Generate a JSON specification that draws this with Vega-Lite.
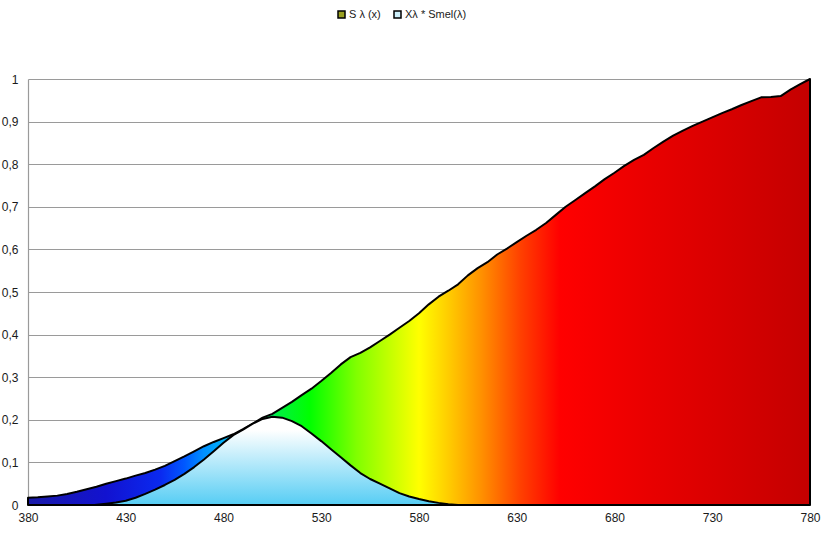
{
  "$schema": "https://vega.github.io/schema/vega-lite/v6.json",
  "width": 782,
  "height": 426,
  "autosize": "none",
  "padding": {"left": 28, "top": 79, "right": 22, "bottom": 33},
  "background": "#ffffff",
  "config": {
    "view": {"stroke": null},
    "font": "Liberation Sans",
    "axis": {"labelFont": "Liberation Sans", "labelFontSize": 12, "labelColor": "#1a1a1a"}
  },
  "datasets": {
    "s": [
      {"wl":380,"v":0.017},{"wl":385,"v":0.018},{"wl":390,"v":0.020},{"wl":395,"v":0.022},{"wl":400,"v":0.026},
      {"wl":405,"v":0.031},{"wl":410,"v":0.037},{"wl":415,"v":0.043},{"wl":420,"v":0.050},{"wl":425,"v":0.056},
      {"wl":430,"v":0.062},{"wl":435,"v":0.069},{"wl":440,"v":0.075},{"wl":445,"v":0.083},{"wl":450,"v":0.092},
      {"wl":455,"v":0.103},{"wl":460,"v":0.114},{"wl":465,"v":0.126},{"wl":470,"v":0.138},{"wl":475,"v":0.148},
      {"wl":480,"v":0.157},{"wl":485,"v":0.166},{"wl":490,"v":0.178},{"wl":495,"v":0.191},{"wl":500,"v":0.205},
      {"wl":505,"v":0.214},{"wl":510,"v":0.228},{"wl":515,"v":0.242},{"wl":520,"v":0.258},{"wl":525,"v":0.273},
      {"wl":530,"v":0.291},{"wl":535,"v":0.310},{"wl":540,"v":0.330},{"wl":545,"v":0.347},{"wl":550,"v":0.357},
      {"wl":555,"v":0.370},{"wl":560,"v":0.385},{"wl":565,"v":0.400},{"wl":570,"v":0.416},{"wl":575,"v":0.432},
      {"wl":580,"v":0.450},{"wl":585,"v":0.471},{"wl":590,"v":0.489},{"wl":595,"v":0.503},{"wl":600,"v":0.518},
      {"wl":605,"v":0.539},{"wl":610,"v":0.556},{"wl":615,"v":0.570},{"wl":620,"v":0.588},{"wl":625,"v":0.602},
      {"wl":630,"v":0.617},{"wl":635,"v":0.632},{"wl":640,"v":0.646},{"wl":645,"v":0.662},{"wl":650,"v":0.681},
      {"wl":655,"v":0.700},{"wl":660,"v":0.716},{"wl":665,"v":0.732},{"wl":670,"v":0.748},{"wl":675,"v":0.765},
      {"wl":680,"v":0.780},{"wl":685,"v":0.796},{"wl":690,"v":0.810},{"wl":695,"v":0.822},{"wl":700,"v":0.838},
      {"wl":705,"v":0.853},{"wl":710,"v":0.867},{"wl":715,"v":0.879},{"wl":720,"v":0.890},{"wl":725,"v":0.900},
      {"wl":730,"v":0.910},{"wl":735,"v":0.920},{"wl":740,"v":0.929},{"wl":745,"v":0.939},{"wl":750,"v":0.948},
      {"wl":755,"v":0.957},{"wl":760,"v":0.958},{"wl":765,"v":0.960},{"wl":770,"v":0.975},{"wl":775,"v":0.988},
      {"wl":780,"v":1.0}
    ],
    "x": [
      {"wl":414,"v":0},{"wl":420,"v":0.003},{"wl":425,"v":0.006},{"wl":430,"v":0.010},{"wl":435,"v":0.017},
      {"wl":440,"v":0.026},{"wl":445,"v":0.036},{"wl":450,"v":0.047},{"wl":455,"v":0.059},{"wl":460,"v":0.073},
      {"wl":465,"v":0.089},{"wl":470,"v":0.107},{"wl":475,"v":0.126},{"wl":480,"v":0.146},{"wl":485,"v":0.164},
      {"wl":490,"v":0.177},{"wl":495,"v":0.191},{"wl":500,"v":0.202},{"wl":505,"v":0.207},{"wl":510,"v":0.205},
      {"wl":515,"v":0.197},{"wl":520,"v":0.185},{"wl":525,"v":0.168},{"wl":530,"v":0.150},{"wl":535,"v":0.131},
      {"wl":540,"v":0.112},{"wl":545,"v":0.093},{"wl":550,"v":0.075},{"wl":555,"v":0.061},{"wl":560,"v":0.050},
      {"wl":565,"v":0.039},{"wl":570,"v":0.028},{"wl":575,"v":0.020},{"wl":580,"v":0.014},{"wl":585,"v":0.009},
      {"wl":590,"v":0.005},{"wl":595,"v":0.002},{"wl":600,"v":0}
    ],
    "legend": [
      {"series":"S λ (x)"},{"series":"Xλ * Smel(λ)"}
    ]
  },
  "layer": [
    {
      "data": {"name": "s"},
      "mark": {
        "type": "area",
        "stroke": "#000000",
        "strokeWidth": 2,
        "strokeJoin": "round",
        "fill": {
          "gradient": "linear", "x1": 0, "x2": 1, "y1": 0, "y2": 0,
          "stops": [
            {"offset": 0, "color": "#1a1aa8"},
            {"offset": 0.1, "color": "#1212d0"},
            {"offset": 0.17, "color": "#0a2af0"},
            {"offset": 0.2, "color": "#0058ff"},
            {"offset": 0.225, "color": "#0090ff"},
            {"offset": 0.25, "color": "#00b0f8"},
            {"offset": 0.285, "color": "#00d8c0"},
            {"offset": 0.32, "color": "#00f040"},
            {"offset": 0.36, "color": "#00ff00"},
            {"offset": 0.42, "color": "#80ff00"},
            {"offset": 0.5, "color": "#ffff00"},
            {"offset": 0.535, "color": "#ffd000"},
            {"offset": 0.58, "color": "#ff9000"},
            {"offset": 0.63, "color": "#ff4000"},
            {"offset": 0.68, "color": "#ff0000"},
            {"offset": 0.8, "color": "#e80000"},
            {"offset": 1, "color": "#c40000"}
          ]
        }
      },
      "encoding": {
        "x": {
          "field": "wl", "type": "quantitative",
          "scale": {"domain": [380, 780], "nice": false, "zero": false},
          "axis": {
            "title": null, "values": [380, 430, 480, 530, 580, 630, 680, 730, 780],
            "ticks": false, "tickSize": 0, "domain": false, "grid": false, "labelPadding": 7,
            "labelFlush": false
          }
        },
        "y": {
          "field": "v", "type": "quantitative",
          "scale": {"domain": [0, 1], "nice": false},
          "axis": {
            "title": null, "values": [0, 0.1, 0.2, 0.3, 0.4, 0.5, 0.6, 0.7, 0.8, 0.9, 1],
            "labelExpr": "replace(format(datum.value, '~g'), '.', ',')",
            "ticks": false, "tickSize": 0, "labelPadding": 10,
            "grid": true, "gridColor": "#9a9a9a", "gridWidth": 1.2,
            "domain": true, "domainColor": "#9a9a9a", "domainWidth": 1.2,
            "labelFlush": false
          }
        }
      }
    },
    {
      "data": {"name": "x"},
      "mark": {
        "type": "area",
        "stroke": "#000000",
        "strokeWidth": 2,
        "strokeJoin": "round",
        "fill": {
          "gradient": "linear", "x1": 0, "x2": 0, "y1": 0, "y2": 1,
          "stops": [
            {"offset": 0, "color": "#ffffff"},
            {"offset": 0.15, "color": "#ffffff"},
            {"offset": 1, "color": "#56cdf4"}
          ]
        }
      },
      "encoding": {
        "x": {"field": "wl", "type": "quantitative"},
        "y": {"field": "v", "type": "quantitative"}
      }
    },
    {
      "data": {"name": "legend"},
      "mark": {"type": "point", "filled": true, "opacity": 0},
      "encoding": {
        "color": {
          "field": "series", "type": "nominal",
          "scale": {"domain": ["S λ (x)", "Xλ * Smel(λ)"], "range": ["#9aa020", "#cdeffa"]},
          "legend": {
            "title": null, "orient": "none", "direction": "horizontal",
            "legendX": 308, "legendY": -70,
            "symbolType": "square", "symbolSize": 49, "symbolOpacity": 1,
            "symbolStrokeColor": "#000000", "symbolStrokeWidth": 1.5,
            "labelFont": "Liberation Sans", "labelFontSize": 11, "labelColor": "#1a1a1a",
            "labelOffset": 2, "columnPadding": 10
          }
        }
      }
    }
  ]
}
